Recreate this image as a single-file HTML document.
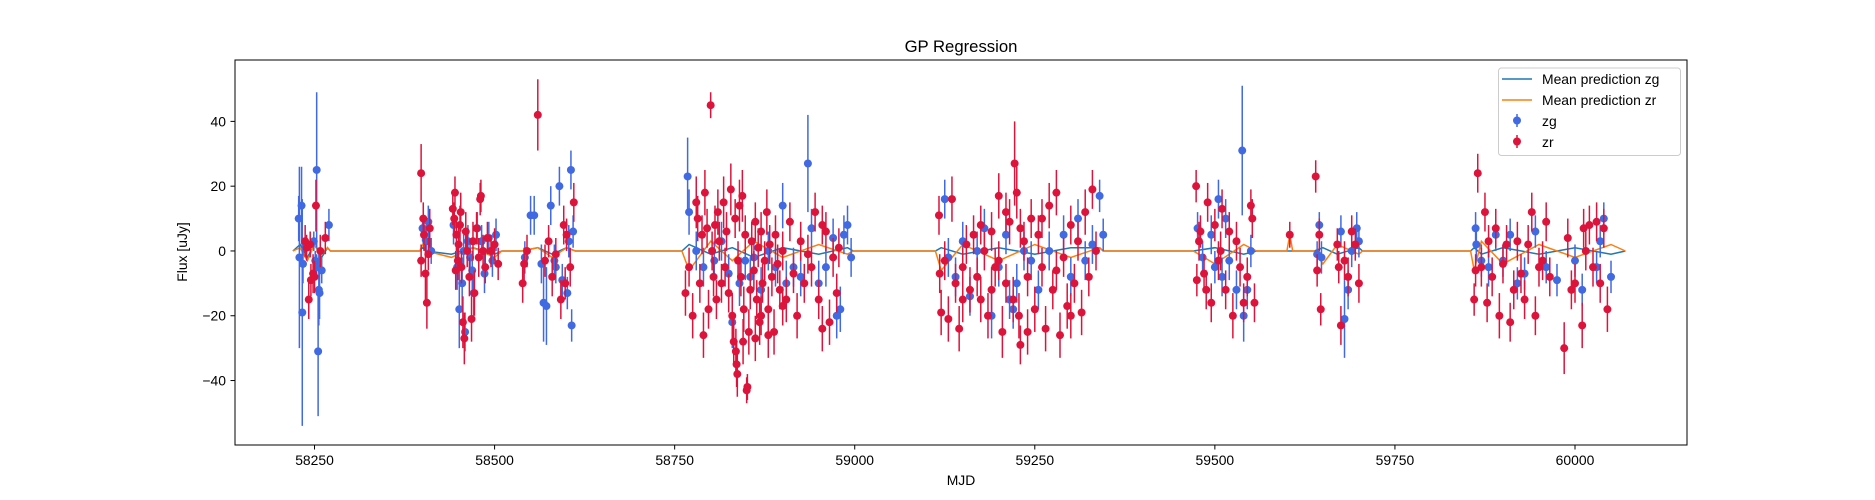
<!DOCTYPE html>
<html><head><meta charset="utf-8"><style>
body{margin:0;background:#fff;}
svg{display:block;font-family:"Liberation Sans","DejaVu Sans",sans-serif;}
</style></head><body>
<svg id="chart" width="1875" height="500" xmlns="http://www.w3.org/2000/svg">
<rect width="1875" height="500" fill="#fff"/>
<text x="961" y="52" font-size="16.7" text-anchor="middle" fill="#000">GP Regression</text>
<g id="grid"></g>
<g id="lines"></g>
<g id="blue"></g>
<g id="red"></g>
<rect x="235" y="60" width="1452" height="385" fill="none" stroke="#000" stroke-width="1"/>
<g id="axes"></g>
<text x="961" y="485" font-size="13.9" text-anchor="middle">MJD</text>
<text transform="translate(187,252) rotate(-90)" font-size="13.9" text-anchor="middle">Flux [uJy]</text>
<g>
<rect x="1498.5" y="68" width="182" height="87.5" rx="3" fill="#fff" fill-opacity="0.8" stroke="#ccc"/>
<line x1="1502" y1="79" x2="1532" y2="79" stroke="#1f77b4" stroke-width="1.5"/>
<text x="1542" y="84" font-size="13.9">Mean prediction zg</text>
<line x1="1502" y1="100" x2="1532" y2="100" stroke="#ff7f0e" stroke-width="1.5"/>
<text x="1542" y="105" font-size="13.9">Mean prediction zr</text>
<line x1="1517" y1="114" x2="1517" y2="127" stroke="#4169e1" stroke-width="1.5"/>
<circle cx="1517" cy="120.5" r="4" fill="#4169e1"/>
<text x="1542" y="126" font-size="13.9">zg</text>
<line x1="1517" y1="135" x2="1517" y2="148" stroke="#dc143c" stroke-width="1.5"/>
<circle cx="1517" cy="141.5" r="4" fill="#dc143c"/>
<text x="1542" y="147" font-size="13.9">zr</text>
</g>
</svg>
<script>
const xTicks=[58250,58500,58750,59000,59250,59500,59750,60000];
const yTicks=[-40,-20,0,20,40];
const redMjd=[58237,58242,58248,58252,58245,58258,58265,58239,58244,58250,
58398,58398,58401,58404,58406,58402,58410,58408,
58442,58444,58445,58447,58449,58450,58452,58454,58456,58458,58460,58462,58465,58468,58470,58472,58475,58478,58480,58481,58484,58487,58490,58495,58500,58505,58446,58453,
58539,58541,58545,58560,58570,58580,58585,58592,58596,58600,58605,58610,58598,58575,
58765,58770,58775,58780,58782,58785,58788,58790,58792,58795,58797,58800,58802,58804,58806,58808,58810,58812,58815,58818,58820,58822,58825,58828,58830,58832,58834,58836,58838,58840,58842,58844,58846,58848,58850,58851,58853,58855,58857,58860,58862,58864,58866,58868,58870,58872,58875,58878,58880,58882,58885,58888,58890,58893,58896,58900,58905,58910,58915,58920,58925,58930,58935,58940,58945,58950,58955,58960,58965,58970,58975,58978,58845,58835,58837,58862,58870,58880,58900,58955,
59117,59118,59120,59125,59130,59135,59140,59145,59150,59155,59160,59165,59170,59175,59180,59185,59190,59195,59200,59205,59210,59215,59220,59222,59225,59228,59230,59235,59240,59245,59250,59255,59260,59265,59270,59275,59280,59285,59290,59295,59300,59305,59310,59315,59320,59325,59330,59335,59210,59190,59240,59230,59260,59200,59175,59150,59280,59300,
59474,59475,59478,59480,59485,59490,59495,59500,59505,59510,59515,59520,59525,59530,59535,59540,59545,59550,59555,59552,59488,59508,
59604,59640,59642,59645,59647,59670,59675,59680,59685,59690,59695,59700,59672,
59860,59862,59865,59870,59875,59878,59880,59885,59890,59895,59900,59905,59910,59915,59920,59925,59930,59940,59945,59950,59960,59965,59985,59990,59995,60000,60010,60015,60020,60025,60030,60035,60040,60045,60012,59955,59935];
const redFlux=[3,-15,-7,14,-9,0,4,1,2,-8,
24,-3,10,-7,-16,5,7,-1,
13,10,18,5,-3,2,8,-5,-22,-27,6,0,-8,-21,3,-13,7,-2,16,17,0,-5,4,0,2,-4,-6,12,
-10,-4,0,42,-3,-8,-1,-15,8,5,-5,15,-10,3,
-13,-5,-20,15,10,-10,5,-26,18,7,-18,45,0,-8,8,-15,12,3,-10,15,-5,6,-13,19,-20,-28,10,-35,-3,14,-8,17,-18,5,-43,-42,-25,-12,3,-6,9,-15,1,-22,6,-10,-3,12,-18,2,-8,-25,5,-4,-12,0,-15,9,-7,-20,3,-10,-1,-5,12,-15,-24,6,-22,-2,-13,1,-28,-31,-38,-27,-20,-26,-17,8,
11,-7,-19,-3,-21,16,-10,-24,-5,2,-12,5,-8,-15,0,-20,6,-5,17,-25,-10,9,-15,27,18,-20,-29,3,-8,10,-18,5,-5,-24,14,-12,18,-26,-2,-17,8,-10,3,-19,12,-8,19,0,12,-12,-25,7,10,-3,8,-15,-6,-20,
20,-9,3,6,-7,15,-16,8,-3,13,-12,6,-20,3,-5,-16,-8,14,-16,10,-12,0,
5,23,-6,5,-18,2,-23,-3,-8,6,2,-10,-5,
-15,-6,24,-5,12,-16,3,-8,7,-20,-4,2,-22,-12,3,-7,-15,12,-20,-5,9,-8,-30,4,-12,-10,-23,0,8,-5,9,-10,7,-18,7,-3,2];
const redErr=[5,6,6,8,5,5,5,4,4,5,
9,5,5,9,8,5,6,5,
5,5,5,5,6,5,6,5,8,8,6,5,6,7,6,7,5,6,5,5,5,5,5,5,5,5,6,6,
6,5,5,11,5,6,5,6,6,5,6,6,5,5,
7,6,7,8,7,6,6,7,7,6,6,4,6,6,6,6,7,6,6,8,6,6,6,8,7,7,6,7,6,8,6,8,7,6,4,4,7,6,6,6,6,6,6,7,6,6,6,7,7,6,6,7,6,6,6,6,7,6,6,7,6,6,6,6,6,6,7,6,7,6,6,6,7,7,7,7,6,7,6,6,
6,6,7,6,7,7,6,7,6,6,7,6,6,7,6,7,6,6,7,8,6,7,7,13,8,7,6,6,6,6,7,6,6,7,7,6,7,7,6,7,6,6,6,7,7,6,6,6,6,7,7,6,6,6,6,7,6,7,
5,5,6,5,6,6,6,5,6,6,6,6,7,6,6,6,6,5,6,6,6,6,
4,5,5,5,5,5,6,6,6,5,5,6,5,
5,5,6,6,6,6,5,6,6,7,6,6,6,6,6,6,6,6,6,6,6,6,8,6,6,6,7,6,6,6,6,6,6,7,6,6,6];
const blueMjd=[58228,58229,58232,58233,58234,58253,58255,58256,58257,58260,58270,58249,58251,58253,
58400,58405,58408,58412,
58443,58448,58451,58455,58459,58463,58466,58471,58476,58482,58486,58492,58497,58502,58457,58469,
58542,58550,58555,58565,58568,58572,58578,58583,58590,58594,58601,58606,58607,58609,58603,58585,
58768,58770,58780,58790,58805,58815,58825,58830,58840,58848,58855,58860,58870,58880,58890,58900,58905,58915,58925,58935,58940,58950,58960,58970,58980,58985,58990,58995,58975,
59125,59130,59140,59150,59160,59170,59180,59190,59200,59210,59215,59225,59235,59245,59255,59270,59290,59300,59310,59320,59330,59340,59345,59220,
59476,59483,59495,59500,59505,59510,59520,59530,59538,59540,59545,59550,59515,
59642,59645,59648,59675,59680,59685,59690,59697,59700,
59862,59863,59870,59880,59890,59900,59910,59920,59930,59945,59960,59975,60000,60010,60030,60040,60050,60035];
const blueFlux=[10,-2,14,-19,-4,25,-31,-12,-13,-6,8,3,-3,-5,
7,3,9,0,
8,-5,-18,-10,-25,3,-2,-13,7,3,-7,4,-3,5,0,-6,
-2,11,11,-4,-16,-17,14,-3,20,-9,-13,25,-23,6,3,-5,
23,12,0,-5,-3,3,-7,-22,-10,-3,-8,-2,-12,0,-5,14,-10,-5,-8,27,7,-10,-5,4,-18,5,8,-2,-20,
16,-2,-8,3,-14,0,7,-20,-5,5,-15,-10,0,-3,-12,0,5,-8,10,-3,2,17,5,-18,
7,-2,5,-5,16,-8,-3,-12,31,-20,-12,0,10,
-1,8,-2,6,-21,-12,0,7,3,
7,2,-3,-5,5,-3,5,-10,-7,6,-5,-9,-3,-12,-5,10,-8,3];
const blueErr=[7,28,12,35,6,24,20,11,8,4,5,3,3,4,
4,5,5,4,
6,7,12,8,6,5,5,7,5,5,6,5,5,5,5,6,
5,6,6,6,12,12,6,5,6,5,5,6,5,5,5,5,
12,7,6,6,6,6,6,8,7,6,6,6,7,6,6,7,7,6,6,15,6,7,6,6,7,6,6,6,7,
6,6,6,6,6,6,6,7,6,6,6,6,6,6,6,6,6,6,6,6,6,5,5,6,
5,5,6,5,6,6,6,6,20,8,6,5,6,
4,4,5,5,12,6,5,5,5,
5,5,5,6,5,5,5,5,5,5,5,5,5,5,5,5,5,5];
const gpMjd=[58220,58230,58240,58250,58260,58268,58272,58396,58400,58405,58440,58470,58500,58510,58538,58560,58580,58600,58612,58760,58770,58800,58830,58860,58900,58950,58990,58998,59112,59120,59150,59200,59250,59300,59340,59345,59470,59500,59540,59558,59600,59604,59608,59638,59650,59670,59700,59705,59855,59860,59870,59900,59950,60000,60050,60070];
const gpZg=[0,2,-2,2,-2,1,0,0,1,0,-1,1,-1,0,0,1,-1,1,0,0,2,-1,1,-2,1,-1,1,0,0,1,-1,1,-1,1,1,0,0,1,-1,0,0,0,0,0,1,-1,1,0,0,1,-1,1,-1,1,-1,0];
const gpZr=[0,1,-3,2,-1,1,0,0,2,0,-2,1,-2,0,0,1,-2,1,0,0,-6,3,-3,3,-2,2,-1,0,0,-6,2,-3,2,-2,1,0,0,-4,2,0,0,5,0,0,-4,2,-1,0,0,-6,3,-4,2,-2,2,0];
const NS='http://www.w3.org/2000/svg';
const X0=235,X1=1687,XMIN=58139.6,XMAX=60155.5,Y0=445,Y1=60,YMIN=-59.9,YMAX=58.95;
function sx(v){return X0+(v-XMIN)/(XMAX-XMIN)*(X1-X0);}
function sy(v){return Y0-(v-YMIN)/(YMAX-YMIN)*(Y0-Y1);}
function mk(tag,attrs,parent){const e=document.createElementNS(NS,tag);for(const k in attrs)e.setAttribute(k,attrs[k]);parent.appendChild(e);return e;}
const axes=document.getElementById('axes');
xTicks.forEach(t=>{
  const g=mk('g',{},axes);
  
  
  mk('line',{x1:sx(t),x2:sx(t),y1:445,y2:449.5,stroke:'#000'},g);
  const tx=mk('text',{x:sx(t),y:465,'font-size':13.9,'text-anchor':'middle'},g);tx.textContent=t;
});
yTicks.forEach(t=>{
  const g=mk('g',{},axes);
  
  
  mk('line',{x1:230.5,x2:235,y1:sy(t),y2:sy(t),stroke:'#000'},g);
  const tx=mk('text',{x:226,y:sy(t)+5,'font-size':13.9,'text-anchor':'end'},g);tx.textContent=(t<0?'\u2212'+(-t):t);
});
const lines=document.getElementById('lines');
function path(vals,color,name){
  let d='';gpMjd.forEach((m,i)=>{d+=(i?'L':'M')+sx(m).toFixed(1)+','+sy(vals[i]).toFixed(1);});
  const p=mk('path',{d:d,fill:'none',stroke:color,'stroke-width':1.5},lines);
  
  
}
path(gpZg,'#1f77b4','mean-prediction-zg');
path(gpZr,'#ff7f0e','mean-prediction-zr');
function pts(ms,fs,es,color,gid,name){
  const g=document.getElementById(gid);
  ms.forEach((m,i)=>{
    const gg=mk('g',{},g);
    
    
    mk('line',{x1:sx(m),x2:sx(m),y1:sy(fs[i]-es[i]),y2:sy(fs[i]+es[i]),stroke:color,'stroke-width':1.5},gg);
    mk('circle',{cx:sx(m),cy:sy(fs[i]),r:4,fill:color},gg);
  });
}
pts(blueMjd,blueFlux,blueErr,'#4169e1','blue','zg-point');
pts(redMjd,redFlux,redErr,'#dc143c','red','zr-point');
</script>
</body></html>
